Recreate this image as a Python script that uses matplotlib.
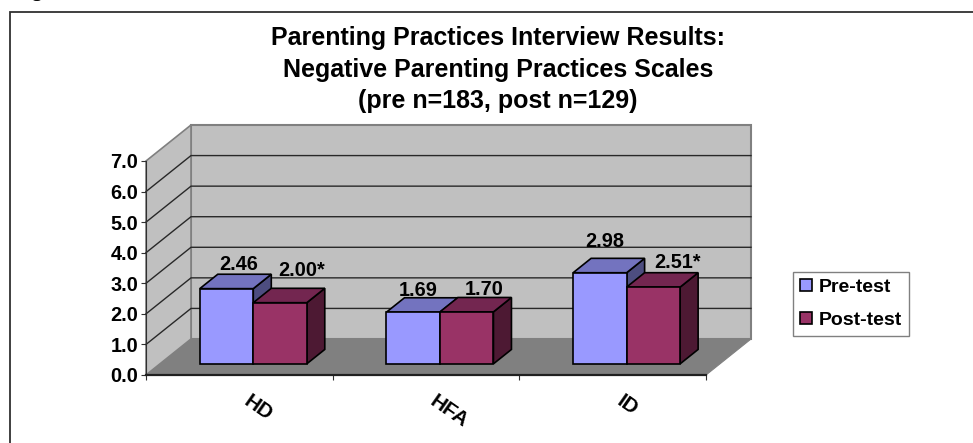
import matplotlib
matplotlib.use("Agg")
import matplotlib.pyplot as plt
from matplotlib.patches import Rectangle
from matplotlib.lines import Line2D

plt.rcParams['font.family'] = ['Liberation Sans', 'DejaVu Sans']

# ---- data ----
categories = ["HD", "HFA", "ID"]
series_names = ["Pre-test", "Post-test"]
pre_values = [2.46, 1.69, 2.98]
post_values = [2.00, 1.70, 2.51]
pre_labels = ["2.46", "1.69", "2.98"]
post_labels = ["2.00*", "1.70", "2.51*"]
y_ticks = [0, 1, 2, 3, 4, 5, 6, 7]
title_text = "Parenting Practices Interview Results:\nNegative Parenting Practices Scales\n(pre n=183, post n=129)"

# ---- style ----
W, H = 973, 443
PRE = ("#9999FF", "#7373BF", "#4D4D80")
POST = ("#993366", "#732650", "#4D1933")
EDGE = "#000000"
FS = 14.3
fig = plt.figure(figsize=(W / 100, H / 100), dpi=100, facecolor="white")

# axes spans the FRONT plane of the oblique box
L, R, T, B = 146, 706, 161, 375
ax = fig.add_axes([L / W, 1 - B / H, (R - L) / W, (B - T) / H])
ax.set_xlim(0, len(categories))
ax.set_ylim(0, 7)
ax.patch.set_visible(False)

ux = (R - L) / len(categories)   # px per category
uy = (B - T) / 7                 # px per value
kx, ky = 45 / ux, 36 / uy        # full depth in data units


def P(x, y, d):
    return x + d * kx, y + d * ky


def face(pts, fc, ec="none", lw=0.0, z=1):
    xs, ys = zip(*[P(*p) for p in pts])
    ax.fill(xs, ys, facecolor=fc, edgecolor=ec, linewidth=lw, clip_on=False, zorder=z, joinstyle="miter")


# walls and floor
xmax = len(categories)
face([(0, 0, 1), (xmax, 0, 1), (xmax, 7, 1), (0, 7, 1)], "#C0C0C0", "#808080", 1.5, 1)
face([(0, 0, 0), (0, 0, 1), (0, 7, 1), (0, 7, 0)], "#C0C0C0", "#808080", 1.2, 1)
for v in y_ticks[1:-1]:
    xs, ys = zip(P(0, v, 0), P(0, v, 1), P(xmax, v, 1))
    ax.plot(xs, ys, color="#282828", lw=1.0, clip_on=False, zorder=2)
face([(0, 0, 0), (xmax, 0, 0), (xmax, 0, 1), (0, 0, 1)], "#808080", "none", 0, 3)
xs, ys = zip(P(xmax, 0, 0), P(xmax, 0, 1))
ax.plot(xs, ys, color="#808080", lw=0.8, clip_on=False, zorder=3)

# bars
BW = 53.5 / ux
D0, D1 = 0.31, 0.71
label_offsets_pre = [(12, 24), (5, 22), (5, 31)]
label_offsets_post = [(22, 32), (17, 22), (24, 25)]
for j, (vals, cols, labs, offs) in enumerate(
        [(pre_values, PRE, pre_labels, label_offsets_pre),
         (post_values, POST, post_labels, label_offsets_post)]):
    for i, v in enumerate(vals):
        x0 = i + 0.5 + (j - 1) * BW
        x1 = x0 + BW
        z = 5 + j * 3
        face([(x1, 0, D0), (x1, 0, D1), (x1, v, D1), (x1, v, D0)], cols[2], EDGE, 1.2, z)
        face([(x0, v, D0), (x1, v, D0), (x1, v, D1), (x0, v, D1)], cols[1], EDGE, 1.2, z)
        fx, fy = P(x0, 0, D0)
        ax.bar(fx, v, BW, bottom=fy, align="edge", color=cols[0], edgecolor=EDGE,
               linewidth=1.2, clip_on=False, zorder=z + 1)
        ax.annotate(labs[i], xy=(fx + BW / 2, fy + v), xytext=offs[i], textcoords="offset pixels",
                    ha="center", va="center", fontsize=FS, fontweight="bold", color="black",
                    annotation_clip=False, zorder=20)

# axes furniture
for s in ("top", "right"):
    ax.spines[s].set_visible(False)
ax.spines["left"].set_linewidth(0.8)
ax.spines["left"].set_color("#303030")
ax.spines["bottom"].set_linewidth(1.6)
ax.spines["bottom"].set_color("#202020")
ax.spines["left"].set_zorder(30)
ax.spines["bottom"].set_zorder(30)
ax.set_yticks(y_ticks)
ax.set_yticklabels([f"{v:.1f}" for v in y_ticks], fontsize=FS, fontweight="bold")
ax.set_xticks(range(len(categories) + 1))
ax.set_xticklabels([])
ax.tick_params(axis="y", length=3.5, width=0.8, pad=2, color="#303030")
ax.tick_params(axis="x", length=3.5, width=0.8, color="#303030")
for i, c in enumerate(categories):
    ax.annotate(c, xy=(i + 0.5, 0), xytext=(6, -24), textcoords="offset pixels", rotation=-35,
                rotation_mode="anchor", ha="left", va="center", fontsize=15, fontweight="bold",
                annotation_clip=False)

# legend
handles = [Rectangle((0, 0), 1, 1, facecolor=PRE[0], edgecolor=EDGE, linewidth=1.2),
           Rectangle((0, 0), 1, 1, facecolor=POST[0], edgecolor=EDGE, linewidth=1.2)]
leg = fig.legend(handles, series_names, loc="center", bbox_to_anchor=(851 / W, 1 - 304 / H),
                 prop={"size": 14, "weight": "bold"}, frameon=True, fancybox=False, edgecolor="#808080",
                 framealpha=1, handlelength=0.6, handleheight=0.6, handletextpad=0.35,
                 labelspacing=0.83, borderpad=0.36, borderaxespad=0)
leg.get_frame().set_linewidth(1.0)

# title
fig.text(498 / W, 1 - 69.5 / H, title_text, ha="center", va="center", fontsize=18, fontweight="bold",
         linespacing=1.42)

# outer frame: left and top edges only
fig.add_artist(Line2D([10 / W, 10 / W, 1], [0, 1 - 12 / H, 1 - 12 / H], color="#303030", lw=1.3,
                      solid_joinstyle="miter"))
# caption cut off by the top of the picture, as in the reference
fig.text(16 / W, 1 + 3 / H, "Figure", ha="left", va="baseline", fontsize=14, fontweight="bold",
         family="Liberation Serif")

fig.savefig("out.png", dpi=100)
